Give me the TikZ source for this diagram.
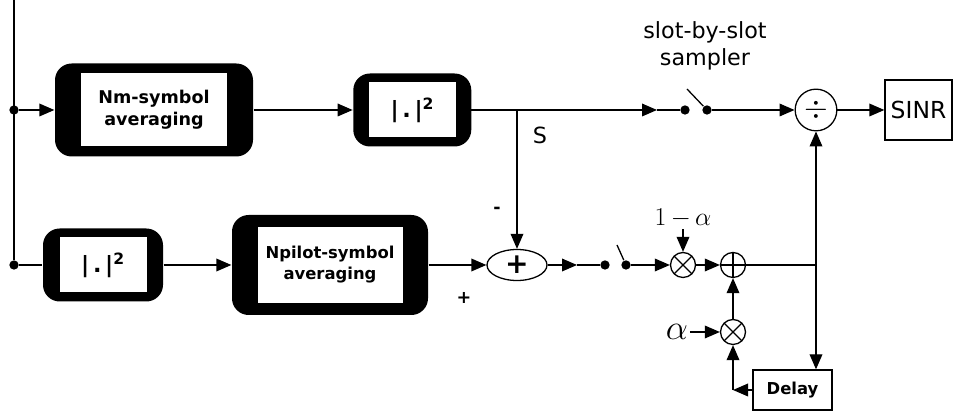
\RequirePackage{fix-cm}
\documentclass[tikz,border=0pt]{standalone}
\usepackage{fontspec}
\setmainfont{DejaVu Sans}
\usepackage{tikz}
\usetikzlibrary{arrows.meta, positioning, shapes.geometric}

\newcommand{\sqmag}{|\,.\,|\textsuperscript{2}}

\begin{document}
\begin{tikzpicture}[
  line width=1.1pt,
  frame/.style={fill=black, rounded corners=0.5cm, inner sep=0pt},
  face/.style={fill=white, inner sep=0pt, align=center, font=\fontsize{15}{19}\selectfont\bfseries},
  junc/.style={circle, fill=black, inner sep=0pt, minimum size=0.28cm},
  op/.style={draw, circle, inner sep=0pt, minimum size=0.75cm},
  addop/.style={op, path picture={
    \draw (path picture bounding box.north) -- (path picture bounding box.south)
          (path picture bounding box.west) -- (path picture bounding box.east);}},
  mulop/.style={op, path picture={
    \draw (path picture bounding box.north west) -- (path picture bounding box.south east)
          (path picture bounding box.south west) -- (path picture bounding box.north east);}},
  tagtext/.style={inner sep=1pt, font=\fontsize{19}{23}\selectfont},
  arrow/.style={-{Triangle[length=0.45cm, width=0.38cm]}}
]
\useasboundingbox (0,0) rectangle (28.65,12.39);

% input line and the two taps
\coordinate (in) at (0.42,12.39);
\node[junc] (jtop) at (0.42,9.09) {};
\node[junc] (jbot) at (0.42,4.44) {};

% upper branch: averaging, power, sampling
\node[frame, minimum width=5.94cm, minimum height=2.79cm] (nm) at (4.62,9.09) {};
\node[face, minimum width=4.38cm, minimum height=2.19cm] (nmface) at (nm) {Nm-symbol\\averaging};
\node[frame, minimum width=3.54cm, minimum height=2.19cm, right=2.97cm of nm] (sqtop) {};
\node[face, minimum width=2.61cm, minimum height=1.65cm, font=\fontsize{19}{21}\selectfont\bfseries] (sqtopface) at (sqtop) {\sqmag};

\coordinate (sw1tip) at (19.71,9.09);
\node[junc] (sw1a) at (20.55,9.09) {};
\node[junc] (sw1b) at (21.21,9.09) {};
\coordinate (lev1) at (20.61,9.72);
\node[tagtext, align=center] (samp) at (21.15,11.0) {slot-by-slot\\sampler};

\node[op, minimum size=1.25cm, font=\fontsize{26}{26}\selectfont] (div) at (24.48,9.09) {$\div$};
\node[draw, minimum width=2.01cm, minimum height=1.8cm, font=\fontsize{20}{22}\selectfont] (sinr) at (27.555,9.09) {SINR};

% lower branch: power, averaging, noise estimate
\node[frame, minimum width=3.6cm, minimum height=2.19cm] (sqbot) at (3.09,4.44) {};
\node[face, minimum width=2.61cm, minimum height=1.65cm, font=\fontsize{19}{21}\selectfont\bfseries] (sqbotface) at (sqbot) {\sqmag};
\node[frame, minimum width=5.88cm, minimum height=3.0cm] (npilot) at (9.9,4.44) {};
\node[face, minimum width=4.35cm, minimum height=2.28cm, font=\fontsize{14}{18}\selectfont\bfseries] (npilotface) at (npilot) {Npilot-symbol\\averaging};

\node[draw, ellipse, minimum width=1.8cm, minimum height=0.93cm, inner sep=0pt, font=\fontsize{24}{24}\selectfont\bfseries] (sub) at (15.51,4.44) {+};
\coordinate (sbr) at (sub |- sqtop);

\coordinate (sw2tip) at (17.31,4.44);
\node[junc] (sw2a) at (18.15,4.44) {};
\node[junc] (sw2b) at (18.78,4.44) {};
\coordinate (lev2) at (18.51,5.04);

% first-order filter
\node[mulop] (mul1) at (20.49,4.44) {};
\node[addop] (add) at (21.99,4.44) {};
\node[mulop] (mul2) at (21.99,2.43) {};
\node[draw, minimum width=2.37cm, minimum height=1.2cm, font=\fontsize{14}{16}\selectfont\bfseries] (delay) at (23.775,0.69) {Delay};
\coordinate (fb) at (div |- add);
\coordinate (dcorner) at (mul2 |- delay);
\node[inner sep=1pt, font=\fontsize{22}{26}\selectfont] (oneminus) at (20.49,5.85) {$1\,{-}\,\alpha$};
\node[inner sep=1pt, font=\fontsize{30}{32}\selectfont] (alpha) at (20.31,2.43) {$\alpha$};

% signs and tap labels
\node[tagtext] (slab) at (16.2,8.34) {S};
\node[font=\fontsize{15}{15}\selectfont\bfseries] (minus) at (14.91,6.09) {-};
\node[font=\fontsize{15}{15}\selectfont\bfseries] (plus) at (13.92,3.45) {+};

% connections
\draw (in) -- (jbot);
\draw[arrow] (jtop) -- (nm);
\draw[arrow] (nm) -- (sqtop);
\draw[arrow] (sqtopface.east) -- (sw1tip);
\draw (sw1tip) -- (sw1a);
\draw (sw1b) -- (lev1);
\draw[arrow] (sw1b) -- (div);
\draw[arrow] (div) -- (sinr);
\draw[arrow] (sbr) -- (sub);

\draw (jbot) -- (sqbot);
\draw[arrow] (sqbot) -- (npilot);
\draw[arrow] (npilot) -- (sub);
\draw[arrow] (sub) -- (sw2tip);
\draw (sw2tip) -- (sw2a);
\draw (sw2b) -- (lev2);
\draw[arrow] (sw2b) -- (mul1);
\draw[arrow] (oneminus) -- (mul1);
\draw[arrow] (mul1) -- (add);
\draw (add) -- (fb);
\draw[arrow] (fb) -- (div);
\draw[arrow] (fb) -- (fb |- delay.north);
\draw[arrow] (alpha) -- (mul2);
\draw[arrow] (mul2) -- (add);
\draw[arrow] (delay) -- (dcorner);
\draw[arrow] (dcorner) -- (mul2);

\end{tikzpicture}
\end{document}
